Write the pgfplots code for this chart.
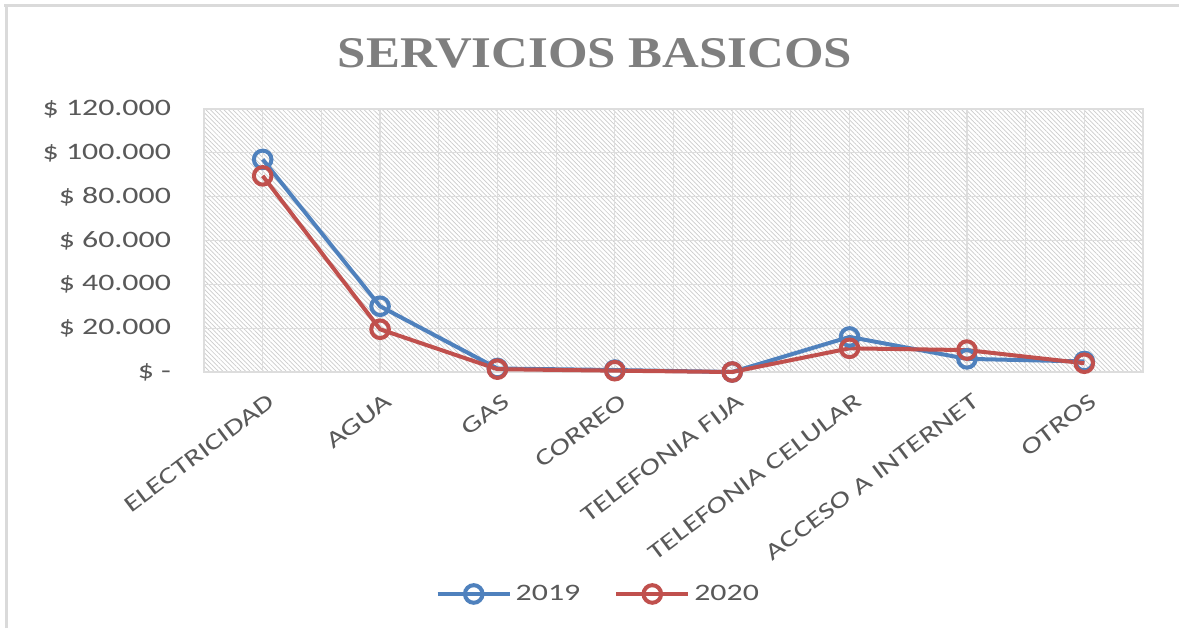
\documentclass[border=0pt]{standalone}
\usepackage{fontspec}
\setmainfont{Carlito}
\newfontfamily\wide[FakeStretch=1.35]{Carlito}
\newfontfamily\titlefont{Liberation Serif}
\usepackage{pgfplots}
\pgfplotsset{compat=1.18}
\usetikzlibrary{patterns.meta}
\definecolor{SerBlue}{HTML}{4F81BD}
\definecolor{SerRed}{HTML}{C0504D}
\definecolor{SerText}{HTML}{595959}
\definecolor{SerTitle}{HTML}{7F7F7F}
\definecolor{SerGrid}{HTML}{DDDDDD}
\definecolor{SerFrame}{HTML}{DADADA}

\begin{document}
\begin{tikzpicture}
\useasboundingbox (0,0) rectangle (589.5pt,314pt);
\fill[white] (0,0) rectangle (589.5pt,314pt);
% outer frame (top and left edges only)
\draw[SerFrame,line width=1.5pt] (2pt,311pt) -- (589.5pt,311pt);
\draw[SerFrame,line width=1.5pt] (3pt,0pt) -- (3pt,311.5pt);
\node[text=SerTitle] at (297.5pt,287.5pt)
  {\resizebox{257pt}{14.5pt}{\titlefont\bfseries SERVICIOS BASICOS}};

\begin{axis}[
  at={(102pt,128pt)}, anchor=south west,
  scale only axis,
  width=469.5pt, height=131.5pt,
  xmin=-0.5, xmax=7.5,
  ymin=0, ymax=120000,
  scaled y ticks=false,
  xtick={0,...,7},
  minor xtick={-0.5,0.5,...,7.5},
  xticklabels={ELECTRICIDAD,AGUA,GAS,CORREO,TELEFONIA FIJA,TELEFONIA CELULAR,ACCESO A INTERNET,OTROS},
  ytick={0,20000,40000,60000,80000,100000,120000},
  yticklabels={\$ -,\$ 20.000,\$ 40.000,\$ 60.000,\$ 80.000,\$ 100.000,\$ 120.000},
  major tick length=0pt, minor tick length=0pt,
  grid=both,
  major grid style={draw=SerGrid,line width=0.6pt},
  minor grid style={draw=SerGrid,line width=0.6pt},
  axis line style={draw=SerGrid,line width=0.6pt},
  axis background/.style={pattern={Lines[angle=-45,distance=1.6pt,line width=0.35pt]},pattern color=black!20},
  yticklabel style={text=SerText,font=\fontsize{11.8}{13}\wide,xshift=-13pt},
  xticklabel style={text=SerText,font=\fontsize{11.6}{13}\wide,rotate=37,anchor=north east,xshift=-1pt,yshift=-6pt},
  clip=false,
  legend columns=2,
  legend style={at={(0.421,-0.844)},anchor=center,draw=none,fill=none,
    font=\fontsize{11.8}{13}\wide,text=SerText,
    /tikz/every even column/.append style={column sep=15pt}},
  legend image code/.code={\draw[mark repeat=2,mark phase=2,#1] plot coordinates {(0pt,0pt) (18pt,0pt) (36pt,0pt)};},
]
\addplot[SerBlue,line width=2pt,mark=o,mark size=4.4pt,mark options={fill=white,line width=2pt}]
  coordinates {(0,97000) (1,30000) (2,1600) (3,900) (4,0) (5,16000) (6,6000) (7,4800)};
\addlegendentry{2019}
\addplot[SerRed,line width=2pt,mark=o,mark size=4.4pt,mark options={fill=white,line width=2pt}]
  coordinates {(0,89500) (1,19500) (2,1300) (3,600) (4,0) (5,10800) (6,10000) (7,4000)};
\addlegendentry{2020}
\end{axis}
\end{tikzpicture}
\end{document}
